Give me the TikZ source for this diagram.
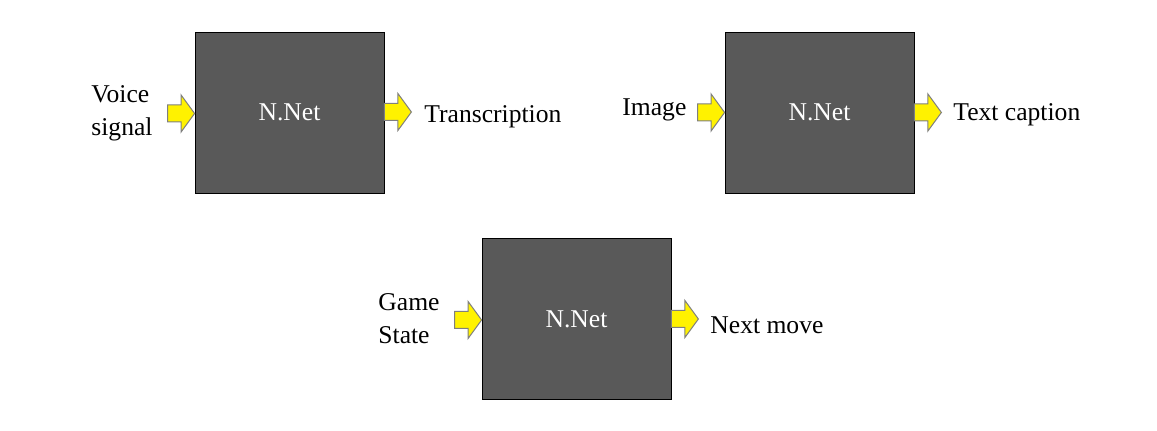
\documentclass[tikz,border=0pt]{standalone}
\usepackage{fontspec}
\setmainfont{Liberation Serif}
\usetikzlibrary{calc}
\tikzset{
  netbox/.style={draw=black, line width=0.4pt, fill=boxgray, minimum width=94.5pt, minimum height=80.5pt, inner sep=0pt, text=white, font=\fontsize{12.8pt}{15pt}\selectfont},
  lbl/.style={inner sep=0pt, align=left, font=\fontsize{12.8pt}{16.5pt}\selectfont},
  barrow/.style={draw=arrowgray, line width=0.5pt, fill=yellow, line join=miter}
}
\definecolor{boxgray}{HTML}{595959}
\definecolor{arrowgray}{HTML}{7F7F7F}
% #1: tail point, draws an arrow of 27px length pointing right
\newcommand\blockarrow[1]{%
  \draw[barrow] ($(#1)+(0,-8.5)$) -- ($(#1)+(13.5,-8.5)$) -- ($(#1)+(13.5,-18.5)$) -- ($(#1)+(27,0)$)
    -- ($(#1)+(13.5,18.5)$) -- ($(#1)+(13.5,8.5)$) -- ($(#1)+(0,8.5)$) -- cycle;}
\begin{document}
\begin{tikzpicture}[x=0.5pt, y=-0.5pt]
\useasboundingbox (0,0) rectangle (1157,431);
\node[netbox] (b1) at (289.5,112.5) {N.Net};
\node[netbox] (b2) at (819.5,112.5) {N.Net};
\node[netbox] (b3) at (576.5,319) {N.Net};
% arrows
\coordinate (a1in) at ($(b1.west)+(-27,1)$);
\coordinate (a1out) at ($(b1.east)+(0,-0.5)$);
\coordinate (a2in) at ($(b2.west)+(-27,0)$);
\coordinate (a2out) at ($(b2.east)+(0,0)$);
\coordinate (a3in) at ($(b3.west)+(-27,1)$);
\coordinate (a3out) at ($(b3.east)+(0,0)$);
\blockarrow{a1in}
\blockarrow{a1out}
\blockarrow{a2in}
\blockarrow{a2out}
\blockarrow{a3in}
\blockarrow{a3out}
% labels
\node[lbl, anchor=west] (t1) at (91,113.5) {Voice\\signal};
\node[lbl, anchor=west] (t2) at (424,117) {Transcription};
\node[lbl, anchor=west] (t3) at (622,110) {Image};
\node[lbl, anchor=west] (t4) at (953,115) {Text caption};
\node[lbl, anchor=west] (t5) at (378,318.5) {Game\\State};
\node[lbl, anchor=west] (t6) at (710,325) {Next move};
\end{tikzpicture}
\end{document}
